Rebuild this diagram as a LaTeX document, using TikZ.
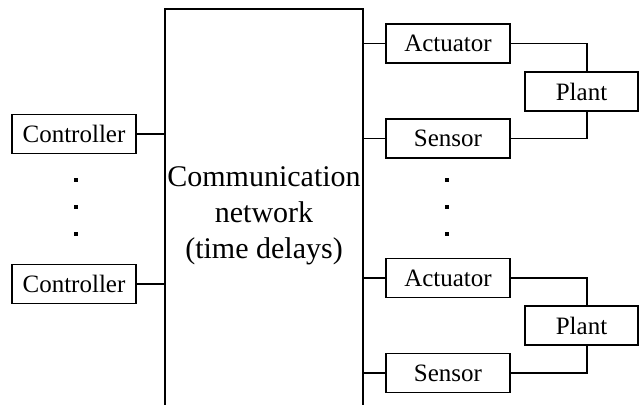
\documentclass[tikz,border=0pt]{standalone}
\usepackage{fontspec}
\setmainfont{Liberation Serif}
\usetikzlibrary{positioning}

\begin{document}
\begin{tikzpicture}[x=0.5pt,y=-0.5pt,line width=0.65pt]
      \tikzstyle{blk}=[draw,black,minimum width=62pt,minimum height=19.5pt,inner sep=0pt,font=\fontsize{12.5}{15}\selectfont]
      \tikzstyle{plnt}=[blk,minimum width=56.5pt]
      \tikzstyle{dot}=[fill,black,inner sep=0pt,minimum size=1.6pt]
      \useasboundingbox (0,0) rectangle (640,405);
      % network frame, open at the bottom
      \draw (165,405) -- (165,9) -- (363,9) -- (363,405);
      \node[align=center,font=\fontsize{15}{18}\selectfont] (net) at (264,216) {Communication\\network\\(time delays)};
      % controllers
      \node[blk] (c1) at (74,134) {Controller};
      \node[blk] (c2) at (74,284) {Controller};
      \node[dot] (cd1) at (76,180) {};
      \node[dot] (cd2) at (76,207) {};
      \node[dot] (cd3) at (76,234) {};
      \draw (c1.east) -- (c1.east -| 165,0);
      \draw (c2.east) -- (c2.east -| 165,0);
      % first loop
      \node[blk] (a1) at (448,43.5) {Actuator};
      \node[blk] (s1) at (448,138.5) {Sensor};
      \node[plnt] (p1) at (581.5,91.5) {Plant};
      \draw (a1.west) -- (a1.west -| 363,0);
      \draw (s1.west) -- (s1.west -| 363,0);
      \draw (a1.east) -| (p1.north -| 587,0);
      \draw (s1.east) -| (p1.south -| 587,0);
      \node[dot] (sd1) at (447,180) {};
      \node[dot] (sd2) at (447,207) {};
      \node[dot] (sd3) at (447,234) {};
      % second loop
      \node[blk] (a2) at (448,278) {Actuator};
      \node[blk] (s2) at (448,373) {Sensor};
      \node[plnt] (p2) at (581.5,325.5) {Plant};
      \draw (a2.west) -- (a2.west -| 363,0);
      \draw (s2.west) -- (s2.west -| 363,0);
      \draw (a2.east) -| (p2.north -| 587,0);
      \draw (s2.east) -| (p2.south -| 587,0);
\end{tikzpicture}
\end{document}
